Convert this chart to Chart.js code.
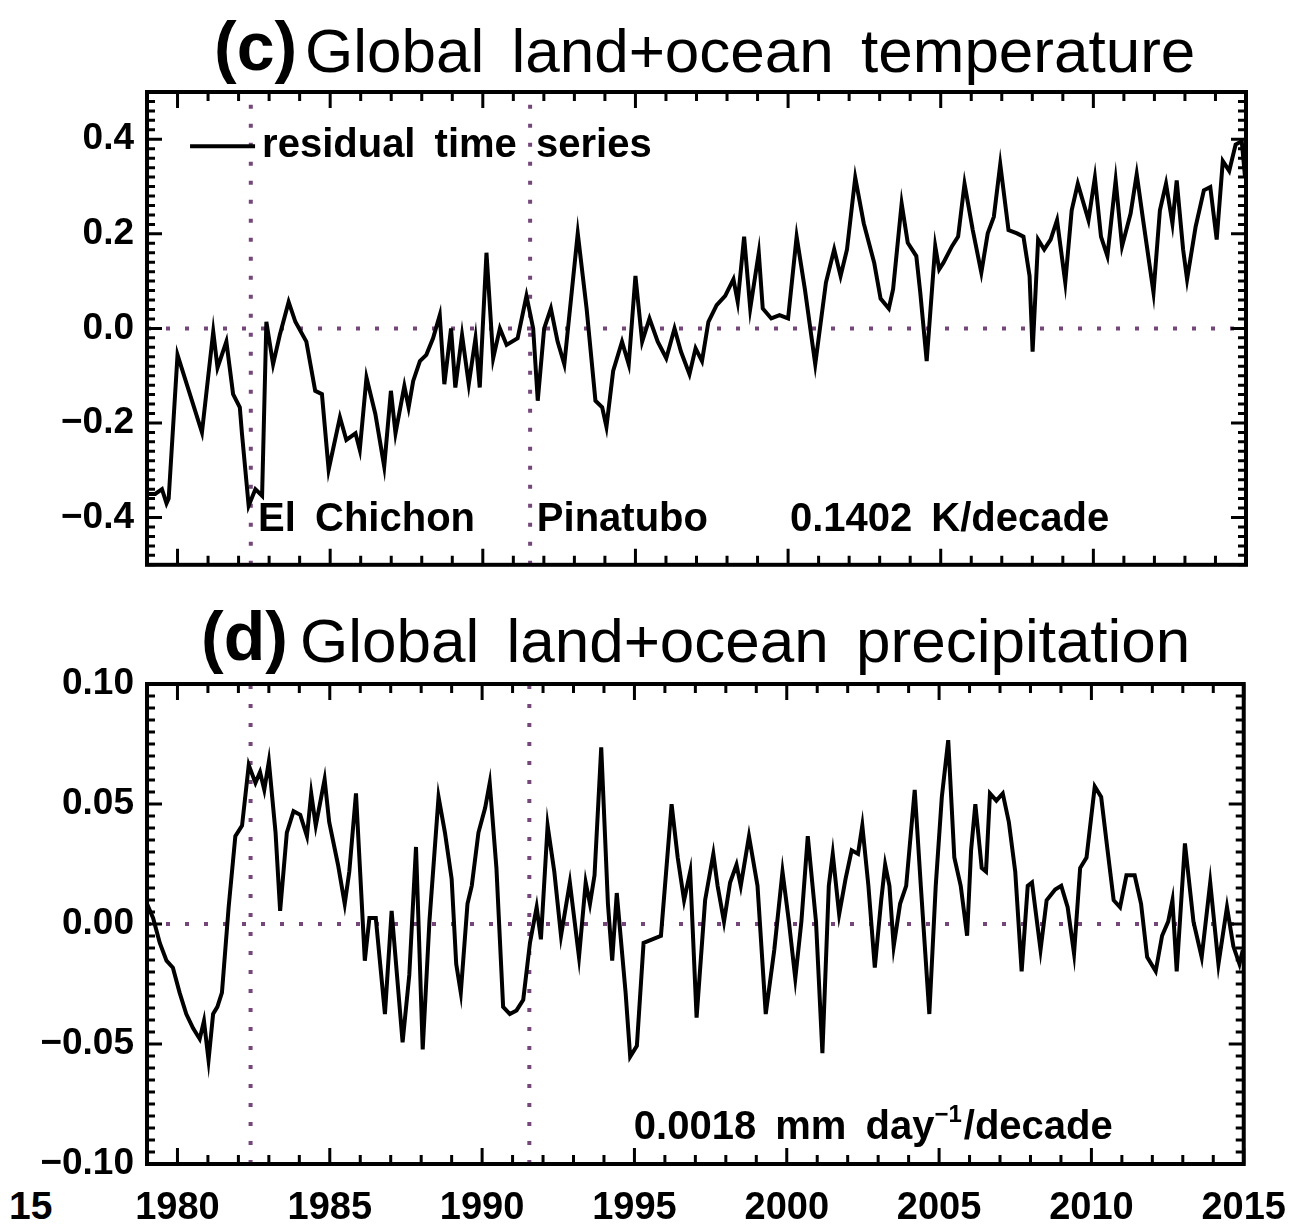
<!DOCTYPE html>
<html>
<head>
<meta charset="utf-8">
<script src="https://cdn.jsdelivr.net/npm/chart.js@4.4.1/dist/chart.umd.min.js"></script>
<style>
  html, body { margin: 0; padding: 0; background: #fff; }
  body { width: 1308px; height: 1229px; position: relative; overflow: hidden; font-family: "Liberation Sans", Arial, sans-serif; }
  canvas { position: absolute; left: 0; }
  #c1 { top: 0; }
  #c2 { top: 600px; }
  .ttl { position: absolute; line-height: 1; white-space: nowrap; color: #000; }
  .tag { font-weight: bold; font-size: 68px; }
  .main { font-size: 62px; word-spacing: 10px; }
  .cut { position: absolute; left: 9px; top: 1186px; font-size: 39px; font-weight: bold; line-height: 1; }
</style>
</head>
<body>
<span class="ttl tag" style="left:214px; top:12px;">(c)</span>
<span class="ttl main" style="left:305px; top:20px;">Global land+ocean temperature</span>
<span class="ttl tag" style="left:201px; top:602px;">(d)</span>
<span class="ttl main" style="left:300px; top:610px;">Global land+ocean precipitation</span>
<div class="cut">15</div>
<canvas id="c1" width="1308" height="600"></canvas>
<canvas id="c2" width="1308" height="629"></canvas>
<script>
// (c) temperature residual
const tempYears = [1979.0, 1979.27, 1979.49, 1979.64, 1979.71, 1980.0, 1980.8, 1981.17, 1981.31, 1981.6,
  1981.82, 1982.04, 1982.11, 1982.33, 1982.55, 1982.77, 1982.91, 1983.13, 1983.35, 1983.64,
  1983.86, 1984.22, 1984.51, 1984.73, 1984.95, 1985.32, 1985.53, 1985.83, 1985.97, 1986.19,
  1986.48, 1986.77, 1986.99, 1987.14, 1987.43, 1987.57, 1987.72, 1987.94, 1988.15, 1988.37,
  1988.59, 1988.74, 1988.96, 1989.1, 1989.32, 1989.54, 1989.76, 1989.9, 1990.12, 1990.34,
  1990.56, 1990.78, 1991.14, 1991.43, 1991.65, 1991.8, 1992.01, 1992.23, 1992.45, 1992.67,
  1993.11, 1993.4, 1993.69, 1993.91, 1994.05, 1994.27, 1994.56, 1994.78, 1995.0, 1995.22,
  1995.46, 1995.73, 1996.01, 1996.28, 1996.49, 1996.77, 1996.97, 1997.18, 1997.39, 1997.66,
  1997.94, 1998.21, 1998.35, 1998.56, 1998.76, 1999.04, 1999.17, 1999.45, 1999.72, 2000.0,
  2000.28, 2000.55, 2000.89, 2001.24, 2001.51, 2001.72, 2001.93, 2002.2, 2002.48, 2002.82,
  2003.03, 2003.3, 2003.44, 2003.72, 2003.92, 2004.2, 2004.33, 2004.54, 2004.82, 2004.95,
  2005.09, 2005.37, 2005.57, 2005.78, 2006.05, 2006.33, 2006.54, 2006.74, 2006.95, 2007.22,
  2007.5, 2007.71, 2007.91, 2008.01, 2008.19, 2008.39, 2008.6, 2008.81, 2009.08, 2009.29,
  2009.49, 2009.84, 2010.05, 2010.25, 2010.46, 2010.73, 2010.94, 2011.22, 2011.42, 2011.63,
  2011.97, 2012.18, 2012.38, 2012.59, 2012.73, 2012.94, 2013.07, 2013.35, 2013.62, 2013.83,
  2014.04, 2014.24, 2014.45, 2014.66, 2014.86, 2014.97];
const tempVals = [-0.35, -0.35, -0.34, -0.37, -0.36, -0.056, -0.22, -0.007, -0.083, -0.028,
  -0.139, -0.167, -0.222, -0.375, -0.34, -0.354, 0.014, -0.076, -0.014, 0.056,
  0.014, -0.028, -0.132, -0.139, -0.299, -0.188, -0.236, -0.222, -0.257, -0.104,
  -0.181, -0.292, -0.132, -0.222, -0.122, -0.167, -0.111, -0.069, -0.056, -0.021,
  0.028, -0.118, 0.0, -0.125, -0.014, -0.118, -0.021, -0.125, 0.16, -0.063,
  0.0, -0.035, -0.021, 0.069, 0.0, -0.153, 0.0, 0.042, -0.028, -0.076,
  0.201, 0.042, -0.153, -0.167, -0.208, -0.09, -0.028, -0.076, 0.111, -0.028,
  0.021, -0.028, -0.063, 0.0, -0.049, -0.097, -0.042, -0.069, 0.014, 0.049,
  0.069, 0.104, 0.056, 0.194, 0.042, 0.16, 0.042, 0.021, 0.028, 0.021,
  0.194, 0.083, -0.076, 0.097, 0.167, 0.111, 0.167, 0.319, 0.222, 0.139,
  0.063, 0.042, 0.083, 0.264, 0.181, 0.153, 0.076, -0.069, 0.174, 0.125,
  0.139, 0.174, 0.194, 0.306, 0.208, 0.118, 0.201, 0.236, 0.347, 0.208,
  0.201, 0.194, 0.111, -0.049, 0.188, 0.167, 0.188, 0.229, 0.097, 0.25,
  0.306, 0.229, 0.319, 0.194, 0.153, 0.313, 0.174, 0.243, 0.326, 0.229,
  0.076, 0.25, 0.306, 0.222, 0.313, 0.167, 0.104, 0.215, 0.292, 0.299,
  0.188, 0.354, 0.333, 0.389, 0.396, 0.319];

// (d) precipitation residual
const precYears = [1979.0, 1979.2, 1979.42, 1979.64, 1979.85, 1980.07, 1980.29, 1980.51, 1980.73, 1980.87,
  1981.02, 1981.17, 1981.31, 1981.46, 1981.68, 1981.9, 1982.12, 1982.34, 1982.56, 1982.71,
  1982.85, 1983.0, 1983.22, 1983.37, 1983.59, 1983.81, 1984.03, 1984.25, 1984.39, 1984.54,
  1984.83, 1984.98, 1985.27, 1985.49, 1985.64, 1985.86, 1986.15, 1986.3, 1986.51, 1986.81,
  1987.03, 1987.39, 1987.61, 1987.83, 1988.05, 1988.27, 1988.57, 1988.78, 1989.0, 1989.15,
  1989.3, 1989.52, 1989.66, 1989.88, 1990.1, 1990.25, 1990.47, 1990.69, 1990.91, 1991.13,
  1991.35, 1991.57, 1991.79, 1991.93, 1992.15, 1992.37, 1992.59, 1992.88, 1993.18, 1993.4,
  1993.54, 1993.69, 1993.91, 1994.13, 1994.27, 1994.42, 1994.71, 1994.86, 1995.08, 1995.3,
  1995.87, 1996.22, 1996.42, 1996.63, 1996.83, 1997.04, 1997.32, 1997.59, 1997.73, 1997.94,
  1998.14, 1998.35, 1998.49, 1998.76, 1999.04, 1999.31, 1999.59, 1999.86, 2000.07, 2000.28,
  2000.48, 2000.69, 2000.96, 2001.17, 2001.38, 2001.51, 2001.72, 2001.93, 2002.13, 2002.34,
  2002.48, 2002.68, 2002.89, 2003.1, 2003.23, 2003.37, 2003.51, 2003.72, 2003.92, 2004.2,
  2004.4, 2004.68, 2004.89, 2005.09, 2005.3, 2005.5, 2005.71, 2005.92, 2006.05, 2006.19,
  2006.4, 2006.54, 2006.67, 2006.88, 2007.09, 2007.29, 2007.5, 2007.71, 2007.91, 2008.05,
  2008.33, 2008.53, 2008.81, 2009.01, 2009.22, 2009.43, 2009.63, 2009.84, 2010.11, 2010.32,
  2010.53, 2010.73, 2010.94, 2011.15, 2011.42, 2011.63, 2011.83, 2012.11, 2012.32, 2012.52,
  2012.66, 2012.8, 2013.07, 2013.35, 2013.62, 2013.9, 2014.17, 2014.45, 2014.66, 2014.86,
  2014.97];
const precVals = [0.0084, 0.0025, -0.0079, -0.0153, -0.0182, -0.0286, -0.0375, -0.0434, -0.0479, -0.0404,
  -0.0567, -0.0375, -0.0345, -0.0286, 0.007, 0.0366, 0.041, 0.0662, 0.0588, 0.0633,
  0.0559, 0.0677, 0.0381, 0.0055, 0.0381, 0.047, 0.0455, 0.0366, 0.0544, 0.041,
  0.0603, 0.0425, 0.0247, 0.0084, 0.0218, 0.0544, -0.0153, 0.0025, 0.0025, -0.0375,
  0.0055, -0.0493, -0.0212, 0.0321, -0.0523, 0.001, 0.0529, 0.0381, 0.0188, -0.0167,
  -0.0286, 0.0084, 0.0159, 0.0381, 0.0484, 0.0588, 0.0233, -0.0345, -0.0375, -0.036,
  -0.0316, -0.0079, 0.007, -0.0064, 0.041, 0.0218, -0.0049, 0.0173, -0.0138, 0.0173,
  0.0084, 0.0203, 0.0736, 0.0084, -0.0153, 0.0129, -0.0286, -0.0553, -0.0508, -0.0079,
  -0.0049, 0.0499, 0.0277, 0.0099, 0.0218, -0.039, 0.0099, 0.0292, 0.0159, 0.001,
  0.0173, 0.0247, 0.0159, 0.0366, 0.0159, -0.0375, -0.0108, 0.0218, 0.001, -0.0227,
  0.001, 0.0366, 0.001, -0.0538, 0.0159, 0.0292, 0.004, 0.0188, 0.0307, 0.0292,
  0.041, 0.0159, -0.0182, 0.0099, 0.0247, 0.0159, -0.0093, 0.0084, 0.0159, 0.0559,
  0.0159, -0.0375, 0.0159, 0.0529, 0.0766, 0.0277, 0.0159, -0.0049, 0.0307, 0.0499,
  0.0233, 0.0218, 0.0544, 0.0514, 0.0544, 0.0425, 0.0218, -0.0197, 0.0159, 0.0173,
  -0.0108, 0.0099, 0.0144, 0.0159, 0.007, -0.0123, 0.0233, 0.0277, 0.0573, 0.0529,
  0.0307, 0.0099, 0.007, 0.0203, 0.0203, 0.0084, -0.0138, -0.0197, -0.0049, 0.001,
  0.0099, -0.0197, 0.0336, 0.001, -0.0138, 0.0173, -0.0167, 0.007, -0.0093, -0.0167,
  -0.0108];

const eruptionYears = [1982.4, 1991.55];
const xTickYears = [1980, 1985, 1990, 1995, 2000, 2005, 2010, 2015];
const tempTicks = [-0.4, -0.2, 0.0, 0.2, 0.4];
const precTicks = [-0.10, -0.05, 0.00, 0.05, 0.10];

const tempNotes = [
  { x: 1982.77, y: 0.385, parts: [{ t: 'residual time series' }] },
  { x: 1982.64, y: -0.405, parts: [{ t: 'El Chichon' }] },
  { x: 1991.77, y: -0.405, parts: [{ t: 'Pinatubo' }] },
  { x: 2000.06, y: -0.405, parts: [{ t: '0.1402 K/decade' }] }
];
const precNotes = [
  { x: 1994.98, y: -0.085, parts: [{ t: '0.0018 mm day' }, { t: '\u22121', sup: true }, { t: '/decade' }] }
];

const FONT = '"Liberation Sans", Arial, Helvetica, sans-serif';
Chart.defaults.font.family = FONT;
Chart.defaults.color = '#000';

const minus = s => s.replace('-', '\u2212');

// ticks pointing inward on all four sides, plus the heavy frame
const frameTicks = {
  id: 'frameTicks',
  afterDatasetsDraw(chart, args, opts) {
    const { ctx, chartArea: a, scales: { x, y } } = chart;
    ctx.save();
    ctx.strokeStyle = '#000';
    ctx.lineWidth = 3;
    ctx.beginPath();
    for (let yr = 1979; yr <= 2015; yr++) {
      const px = x.getPixelForValue(yr);
      const len = yr % 5 === 0 ? 16 : 9;
      ctx.moveTo(px, a.bottom); ctx.lineTo(px, a.bottom - len);
      ctx.moveTo(px, a.top); ctx.lineTo(px, a.top + len);
    }
    for (let i = -opts.yCount; i <= opts.yCount; i++) {
      const py = y.getPixelForValue(i * opts.yStep);
      const len = i % 10 === 0 ? 15 : 8;
      ctx.moveTo(a.left, py); ctx.lineTo(a.left + len, py);
      ctx.moveTo(a.right, py); ctx.lineTo(a.right - len, py);
    }
    ctx.stroke();
    ctx.lineWidth = 4;
    ctx.strokeRect(a.left, a.top, a.right - a.left, a.bottom - a.top);
    ctx.restore();
  }
};

const notesPlugin = {
  id: 'notes',
  afterDatasetsDraw(chart, args, opts) {
    const { ctx, scales: { x, y } } = chart;
    ctx.save();
    ctx.fillStyle = '#000';
    ctx.textBaseline = 'middle';
    ctx.textAlign = 'left';
    ctx.wordSpacing = '8px';
    (opts.items || []).forEach(n => {
      let px = x.getPixelForValue(n.x);
      const py = y.getPixelForValue(n.y);
      n.parts.forEach(p => {
        ctx.font = p.sup ? 'bold 24px ' + FONT : 'bold 40px ' + FONT;
        ctx.fillText(p.t, px, p.sup ? py - 13 : py);
        px += ctx.measureText(p.t).width + (p.sup ? 2 : 0);
      });
    });
    if (opts.key) {
      const k = opts.key;
      const py = y.getPixelForValue(k.y);
      ctx.strokeStyle = '#000';
      ctx.lineWidth = 4;
      ctx.beginPath();
      ctx.moveTo(x.getPixelForValue(k.x0), py);
      ctx.lineTo(x.getPixelForValue(k.x1), py);
      ctx.stroke();
    }
    ctx.restore();
  }
};

function dotted(points) {
  return {
    data: points,
    borderColor: '#74467a',
    borderWidth: 4,
    borderDash: [4, 15],
    pointRadius: 0,
    order: 2
  };
}

function makeChart(id, years, vals, yMin, yMax, ticks, digits, yStep, yCount, notes, key, showX, pad) {
  const series = years.map((yr, i) => ({ x: yr, y: vals[i] }));
  const datasets = [
    { data: series, borderColor: '#000', borderWidth: 4, pointRadius: 0, tension: 0, order: 0 },
    dotted([{ x: 1979, y: 0 }, { x: 2015, y: 0 }])
  ];
  eruptionYears.forEach(e => datasets.push(dotted([{ x: e, y: yMin }, { x: e, y: yMax }])));

  return new Chart(document.getElementById(id), {
    type: 'line',
    data: { datasets },
    options: {
      responsive: false,
      animation: false,
      devicePixelRatio: 1,
      parsing: false,
      layout: { padding: pad },
      plugins: {
        legend: { display: false },
        tooltip: { enabled: false },
        frameTicks: { yStep, yCount },
        notes: { items: notes, key }
      },
      scales: {
        x: {
          type: 'linear',
          min: 1979,
          max: 2015,
          display: showX,
          grid: { display: false, drawTicks: false },
          border: { display: false },
          afterBuildTicks: s => { s.ticks = xTickYears.map(v => ({ value: v })); },
          afterFit: s => { s.height = showX ? 65 : 0; },
          ticks: {
            maxRotation: 0,
            padding: 22,
            font: { size: 38, weight: 'bold' },
            callback: v => String(v)
          }
        },
        y: {
          type: 'linear',
          min: yMin,
          max: yMax,
          grid: { display: false, drawTicks: false },
          border: { display: false },
          afterBuildTicks: s => { s.ticks = ticks.map(v => ({ value: v })); },
          afterFit: s => { s.width = 147; },
          ticks: {
            padding: 13,
            font: { size: 37, weight: 'bold' },
            callback: v => minus(Number(v).toFixed(digits))
          }
        }
      }
    },
    plugins: [frameTicks, notesPlugin]
  });
}

makeChart('c1', tempYears, tempVals, -0.5, 0.5, tempTicks, 1, 0.02, 25, tempNotes,
  { x0: 1980.41, x1: 1982.54, y: 0.385 }, false, { top: 92, right: 62, bottom: 28, left: 0 });
makeChart('c2', precYears, precVals, -0.1, 0.1, precTicks, 2, 0.005, 20, precNotes,
  null, true, { top: 84, right: 62, bottom: 0, left: 0 });
</script>
</body>
</html>
